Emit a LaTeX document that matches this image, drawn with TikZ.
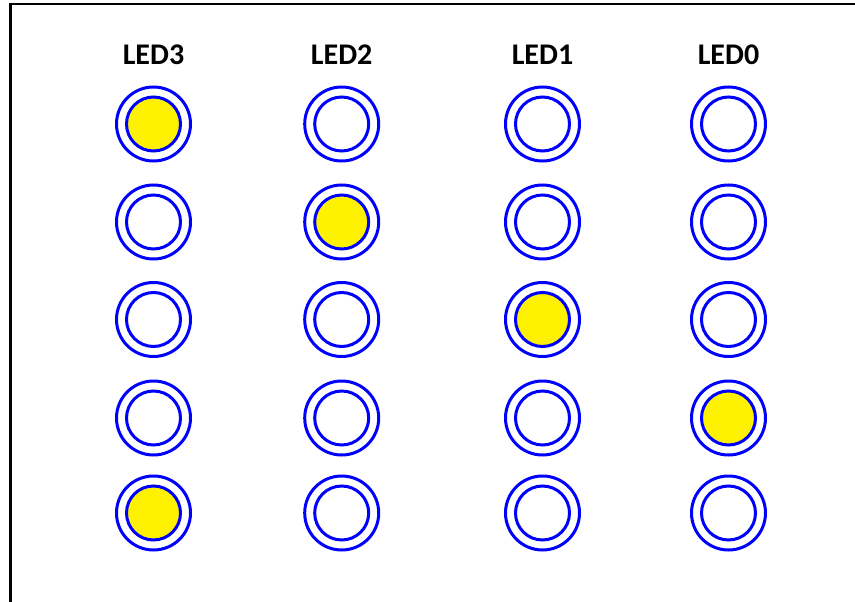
\documentclass[tikz,border=0pt]{standalone}
\usepackage{fontspec}
\setmainfont{Carlito}
\begin{document}
\begin{tikzpicture}[x=1pt,y=-1pt,
  ledring/.style={draw=blue,line width=3pt,circle,minimum size=74pt,inner sep=0pt},
  ledcore/.style={draw=blue,line width=3pt,circle,minimum size=54pt,inner sep=0pt},
  ledon/.style={fill=yellow},
  ledlabel/.style={font=\fontsize{30}{30}\selectfont\bfseries,inner sep=0pt,anchor=base}]
\useasboundingbox (0,0) rectangle (855,602);
\draw[line width=2.5pt] (10.5,605) -- (10.5,4) -- (858,4);
\def\xa{153.5}\def\xb{341.7}\def\xc{542.5}\def\xd{728.5}
\node[ledlabel] (l3) at (\xa,65) {LED3};
\node[ledlabel] (l2) at (\xb,65) {LED2};
\node[ledlabel] (l1) at (\xc,65) {LED1};
\node[ledlabel] (l0) at (\xd,65) {LED0};
\foreach \r/\y in {1/124,2/222,3/319.5,4/418,5/513}{
  \foreach \c/\x in {3/\xa,2/\xb,1/\xc,0/\xd}{
    \node[ledring] (o\c\r) at (\x,\y) {};
  }
}
\foreach \c/\r/\x/\y/\on in {3/1/\xa/124/1,2/1/\xb/124/0,1/1/\xc/124/0,0/1/\xd/124/0,
  3/2/\xa/222/0,2/2/\xb/222/1,1/2/\xc/222/0,0/2/\xd/222/0,
  3/3/\xa/319.5/0,2/3/\xb/319.5/0,1/3/\xc/319.5/1,0/3/\xd/319.5/0,
  3/4/\xa/418/0,2/4/\xb/418/0,1/4/\xc/418/0,0/4/\xd/418/1,
  3/5/\xa/513/1,2/5/\xb/513/0,1/5/\xc/513/0,0/5/\xd/513/0}{
  \ifnum\on=1
    \node[ledcore,ledon] (i\c\r) at (\x,\y) {};
  \else
    \node[ledcore] (i\c\r) at (\x,\y) {};
  \fi
}
\end{tikzpicture}
\end{document}
